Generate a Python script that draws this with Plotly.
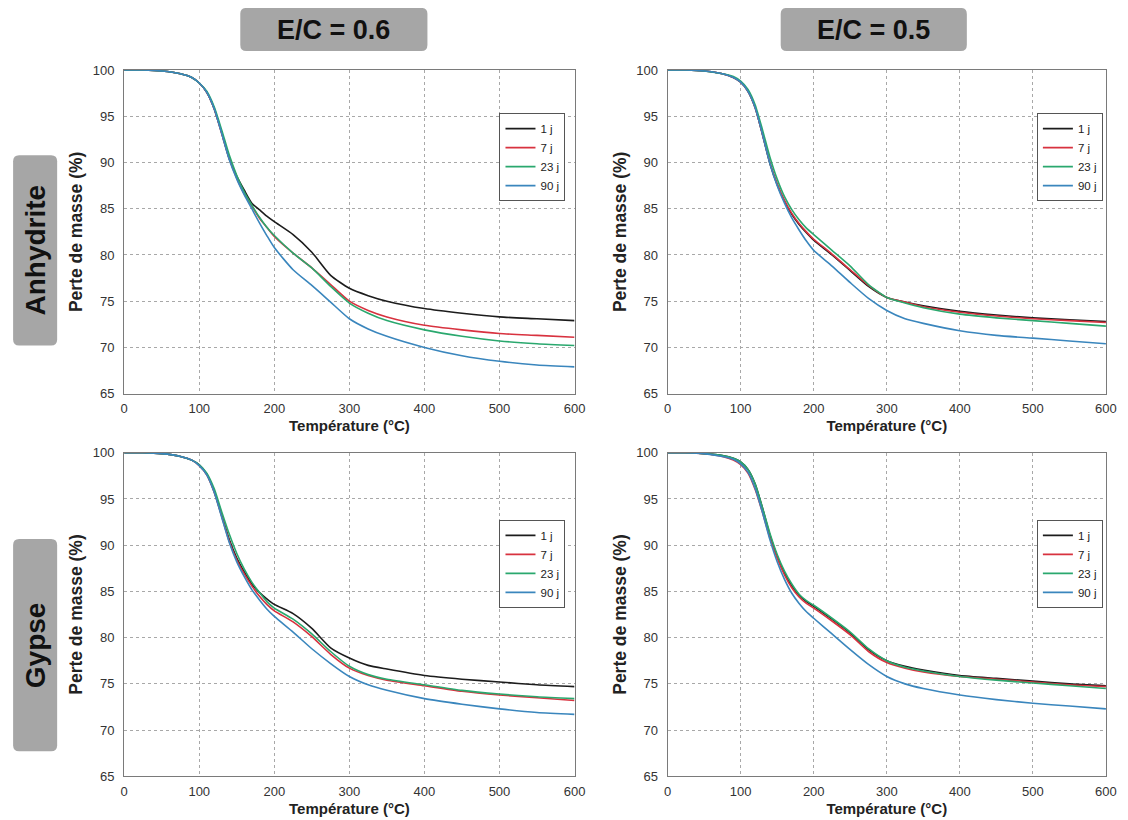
import plotly.graph_objects as go

OFF = 8
W, H = 1132, 822
# measured screen mapping (screen = A * page + B)
AX, BX = 0.986, 4.0
AY, BY = 0.980, 7.2

# ---------------- data ----------------
temperature = [0, 25, 50, 75, 90, 100, 110, 120, 130, 140, 150, 160, 170, 180, 190,
               200, 225, 250, 275, 300, 325, 350, 400, 450, 500, 550, 600]
series_names = ["1 j", "7 j", "23 j", "90 j"]
col_titles = ["E/C = 0.6", "E/C = 0.5"]
row_titles = ["Anhydrite", "Gypse"]
x_ticks = [0, 100, 200, 300, 400, 500, 600]
y_ticks = [65, 70, 75, 80, 85, 90, 95, 100]

# Anhydrite, E/C = 0.6
anh06_1j = [100, 100, 99.9, 99.6, 99.2, 98.6, 97.6, 95.8, 93.2, 90.4, 88.5, 87.0, 85.6, 84.9, 84.2,
            83.6, 82.2, 80.3, 77.8, 76.4, 75.6, 75.0, 74.2, 73.7, 73.3, 73.1, 72.9]
anh06_7j = [100, 100, 99.9, 99.6, 99.2, 98.6, 97.6, 95.8, 93.1, 90.4, 88.3, 86.6, 85.3, 84.0, 83.0,
            82.0, 80.2, 78.6, 76.8, 75.0, 74.0, 73.3, 72.4, 71.9, 71.5, 71.3, 71.1]
anh06_23j = [100, 100, 99.9, 99.6, 99.2, 98.6, 97.7, 96.0, 93.5, 90.8, 88.6, 86.8, 85.4, 84.1, 83.0,
             82.1, 80.2, 78.6, 76.6, 74.8, 73.7, 72.9, 71.9, 71.2, 70.7, 70.4, 70.2]
anh06_90j = [100, 100, 99.9, 99.6, 99.2, 98.6, 97.6, 95.8, 93.1, 90.3, 88.2, 86.5, 85.0, 83.5, 82.1,
             80.8, 78.4, 76.7, 74.9, 73.1, 72.0, 71.2, 70.0, 69.1, 68.5, 68.1, 67.9]

# Anhydrite, E/C = 0.5
anh05_1j = [100, 100, 99.9, 99.6, 99.2, 98.7, 97.7, 95.9, 93.0, 89.9, 87.6, 85.8, 84.4, 83.3, 82.4,
            81.6, 80.0, 78.3, 76.6, 75.4, 74.9, 74.5, 73.9, 73.5, 73.2, 73.0, 72.8]
anh05_7j = [100, 100, 99.9, 99.6, 99.2, 98.7, 97.7, 95.9, 93.0, 90.0, 87.7, 85.9, 84.5, 83.4, 82.5,
            81.7, 80.1, 78.4, 76.7, 75.4, 74.9, 74.4, 73.8, 73.4, 73.1, 72.9, 72.7]
anh05_23j = [100, 100, 99.9, 99.6, 99.3, 98.8, 97.9, 96.2, 93.5, 90.6, 88.2, 86.3, 84.9, 83.8, 82.9,
             82.2, 80.5, 78.8, 76.8, 75.4, 74.8, 74.3, 73.6, 73.2, 72.9, 72.6, 72.3]
anh05_90j = [100, 100, 99.9, 99.6, 99.2, 98.7, 97.7, 95.9, 93.0, 89.9, 87.5, 85.6, 84.0, 82.7, 81.5,
             80.5, 78.8, 77.0, 75.3, 74.0, 73.1, 72.6, 71.8, 71.3, 71.0, 70.7, 70.4]

# Gypse, E/C = 0.6
gyp06_1j = [100, 100, 99.9, 99.6, 99.2, 98.7, 97.7, 95.8, 93.2, 90.6, 88.6, 87.1, 85.8, 84.9, 84.2,
            83.6, 82.6, 81.0, 78.9, 77.8, 77.0, 76.6, 75.9, 75.5, 75.2, 74.9, 74.7]
gyp06_7j = [100, 100, 99.9, 99.6, 99.2, 98.6, 97.6, 95.7, 93.1, 90.4, 88.4, 86.9, 85.6, 84.5, 83.6,
            82.9, 81.7, 80.1, 78.2, 76.7, 75.9, 75.4, 74.8, 74.2, 73.8, 73.5, 73.2]
gyp06_23j = [100, 100, 99.9, 99.6, 99.2, 98.7, 97.8, 96.1, 93.6, 91.2, 89.1, 87.4, 86.0, 84.9, 83.9,
             83.2, 82.0, 80.4, 78.5, 76.9, 76.0, 75.5, 74.9, 74.3, 73.9, 73.6, 73.4]
gyp06_90j = [100, 100, 99.9, 99.6, 99.2, 98.6, 97.6, 95.7, 93.0, 90.3, 88.2, 86.6, 85.2, 84.1, 83.1,
             82.3, 80.6, 78.8, 77.2, 75.8, 74.9, 74.3, 73.4, 72.8, 72.3, 71.9, 71.7]

# Gypse, E/C = 0.5
gyp05_1j = [100, 100, 99.9, 99.7, 99.4, 99.0, 98.2, 96.6, 94.0, 91.1, 88.8, 87.0, 85.6, 84.6, 83.9,
            83.4, 82.0, 80.5, 78.7, 77.5, 76.9, 76.5, 75.9, 75.6, 75.3, 75.0, 74.8]
gyp05_7j = [100, 100, 99.9, 99.6, 99.2, 98.7, 97.8, 96.0, 93.5, 90.8, 88.6, 86.8, 85.4, 84.4, 83.7,
            83.2, 81.8, 80.3, 78.5, 77.3, 76.7, 76.3, 75.8, 75.5, 75.2, 74.9, 74.7]
gyp05_23j = [100, 100, 99.9, 99.7, 99.4, 99.0, 98.2, 96.6, 94.0, 91.3, 89.0, 87.2, 85.8, 84.7, 84.0,
             83.5, 82.1, 80.6, 78.8, 77.5, 76.8, 76.4, 75.8, 75.4, 75.1, 74.8, 74.5]
gyp05_90j = [100, 100, 99.9, 99.6, 99.3, 98.8, 97.9, 96.1, 93.5, 90.6, 88.2, 86.3, 84.8, 83.7, 82.8,
             82.1, 80.4, 78.7, 77.1, 75.8, 75.0, 74.5, 73.8, 73.3, 72.9, 72.6, 72.3]

panels = [
    [[anh06_1j, anh06_7j, anh06_23j, anh06_90j], [anh05_1j, anh05_7j, anh05_23j, anh05_90j]],
    [[gyp06_1j, gyp06_7j, gyp06_23j, gyp06_90j], [gyp05_1j, gyp05_7j, gyp05_23j, gyp05_90j]],
]

# ---------------- style ----------------
colors = ["#1c1c1c", "#d8323f", "#2aa86e", "#3a86bd"]
FONT = "Arial, Liberation Sans, sans-serif"

def clamp(v):
    return max(0.0, min(1.0, v))

def px(x):
    return ((x - BX) / AX - OFF) / W

def py(y):
    return 1 - ((y - BY) / AY - OFF) / H

col_px = [(124, 574), (667, 1105)]
row_px = [(70, 393), (452, 775)]
legend_px = [[(499, 113), (1036, 113)], [(499, 519), (1036, 519)]]

fig = go.Figure()
layout_axes = {}
legends = {}

k = 0
for r in range(2):
    for c in range(2):
        k += 1
        xa = "x" if k == 1 else f"x{k}"
        ya = "y" if k == 1 else f"y{k}"
        lg = "legend" if k == 1 else f"legend{k}"
        for i, (name, vals) in enumerate(zip(series_names, panels[r][c])):
            fig.add_trace(go.Scatter(
                x=temperature, y=vals, mode="lines", name=name,
                line=dict(color=colors[i], width=1.6, shape="spline", smoothing=0.6),
                xaxis=xa, yaxis=ya, legend=lg, showlegend=True,
            ))
        axis_common = dict(
            showline=True, mirror=True, linecolor="#7a7a7a", linewidth=1.2,
            showgrid=True, gridcolor="#a8a8a8", griddash="dot", gridwidth=1,
            zeroline=False, ticks="outside", tickcolor="rgba(0,0,0,0)",
            tickfont=dict(family=FONT, size=13, color="#333333"),
        )
        xk = "xaxis" if k == 1 else f"xaxis{k}"
        yk = "yaxis" if k == 1 else f"yaxis{k}"
        layout_axes[xk] = dict(
            axis_common, domain=[clamp(px(col_px[c][0])), clamp(px(col_px[c][1]))], ticklen=3,
            range=[0, 600], tickvals=x_ticks, anchor=ya,
            title=dict(text="<b>Température (°C)</b>", font=dict(family=FONT, size=15, color="#222222"),
                       standoff=5),
        )
        layout_axes[yk] = dict(
            axis_common, domain=[clamp(py(row_px[r][1])), clamp(py(row_px[r][0]))], ticklen=6,
            range=[65, 100], tickvals=y_ticks, anchor=xa,
            title=dict(text="<b>Perte de masse (%)</b>", font=dict(family=FONT, size=17.5, color="#222222"),
                       standoff=5),
        )
        lx, ly = legend_px[r][c]
        legends[lg] = dict(
            x=clamp(px(lx)), y=clamp(py(ly)), xanchor="left", yanchor="top",
            bgcolor="white", bordercolor="#555555", borderwidth=1,
            font=dict(family=FONT, size=11.5, color="#222222"),
            itemwidth=30, tracegroupgap=0,
        )

fig.update_layout(**layout_axes)
fig.update_layout(**legends)

# ---------------- header / side labels ----------------
def rrect(x0, y0, x1, y1, r=6):
    X = lambda v: px(v)
    Y = lambda v: py(v)
    return (f"M {X(x0 + r)},{Y(y0)} L {X(x1 - r)},{Y(y0)} Q {X(x1)},{Y(y0)} {X(x1)},{Y(y0 + r)} "
            f"L {X(x1)},{Y(y1 - r)} Q {X(x1)},{Y(y1)} {X(x1 - r)},{Y(y1)} "
            f"L {X(x0 + r)},{Y(y1)} Q {X(x0)},{Y(y1)} {X(x0)},{Y(y1 - r)} "
            f"L {X(x0)},{Y(y0 + r)} Q {X(x0)},{Y(y0)} {X(x0 + r)},{Y(y0)} Z")

shapes = []
annotations = []
header_boxes = [(240, 8, 427, 51), (780, 8, 966, 51)]
for (x0, y0, x1, y1), txt in zip(header_boxes, col_titles):
    shapes.append(dict(type="path", path=rrect(x0, y0, x1, y1), xref="paper", yref="paper",
                       fillcolor="#a6a6a6", line=dict(width=0), layer="below"))
    annotations.append(dict(text=f"<b>{txt}</b>", x=px((x0 + x1) / 2), y=py(30),
                            xref="paper", yref="paper", showarrow=False,
                            xanchor="center", yanchor="middle",
                            font=dict(family=FONT, size=27, color="#111111")))
side_boxes = [(13, 155, 57, 345), (13, 538, 57, 750)]
for (x0, y0, x1, y1), txt in zip(side_boxes, row_titles):
    shapes.append(dict(type="path", path=rrect(x0, y0, x1, y1), xref="paper", yref="paper",
                       fillcolor="#a6a6a6", line=dict(width=0), layer="below"))
    annotations.append(dict(text=f"<b>{txt}</b>", x=px((x0 + x1) / 2), y=py((y0 + y1) / 2),
                            xref="paper", yref="paper", showarrow=False, textangle=-90,
                            xanchor="center", yanchor="middle",
                            font=dict(family=FONT, size=28, color="#111111")))

fig.update_layout(
    width=W, height=H, margin=dict(l=0, r=0, t=0, b=0),
    paper_bgcolor="white", plot_bgcolor="white",
    shapes=shapes, annotations=annotations,
    font=dict(family=FONT),
)

fig.write_html("out.html")
